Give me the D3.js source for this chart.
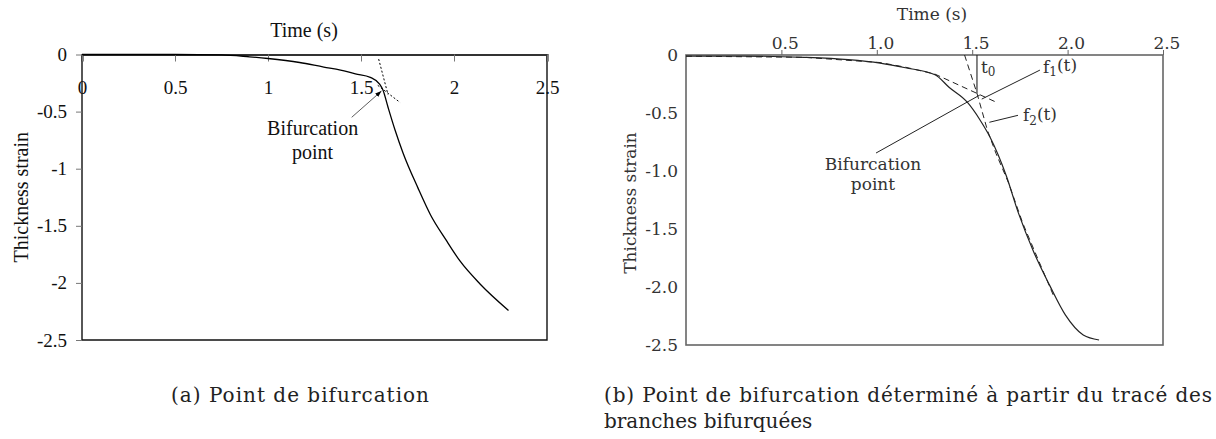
<!DOCTYPE html>
<html>
<head>
<meta charset="utf-8">
<script src="https://cdn.jsdelivr.net/npm/d3@7"></script>
<style>
  body { margin: 0; background: #fff; }
  svg { display: block; }
</style>
</head>
<body>
<div id="chart"></div>
<script>
"use strict";

// == DATA ==
// (a) left panel
var ticksA = [0, 0.5, 1, 1.5, 2, 2.5];
var tickLabelsA = ["0", "0.5", "1", "1.5", "2", "2.5"];
var yTicksA = [0, -0.5, -1, -1.5, -2, -2.5];
var yLabelsA = ["0", "-0.5", "-1", "-1.5", "-2", "-2.5"];

var timeA   = [0, 0.5, 0.75, 0.9, 1.0, 1.17, 1.3, 1.39, 1.47, 1.55, 1.60, 1.618, 1.645, 1.683, 1.726, 1.806, 1.874, 1.957, 2.032, 2.140, 2.293];
var strainA = [0, 0, -0.003, -0.02, -0.035, -0.07, -0.11, -0.136, -0.17, -0.2, -0.26, -0.311, -0.46, -0.661, -0.862, -1.168, -1.405, -1.624, -1.808, -2.009, -2.241];

// dotted tangents around the bifurcation point
var tangentSteepA   = [[1.595, -0.04], [1.645, -0.35]];
var tangentShallowA = [[1.59, -0.27], [1.71, -0.42]];
var arrowA = [[1.45, -0.55], [1.61, -0.32]];

// (b) right panel
var ticksB = [0.5, 1.0, 1.5, 2.0, 2.5];
var tickLabelsB = ["0.5", "1.0", "1.5", "2.0", "2.5"];
var yTicksB = [0, -0.5, -1, -1.5, -2, -2.5];
var yLabelsB = ["0", "-0.5", "-1.0", "-1.5", "-2.0", "-2.5"];

var timeB   = [0, 0.3, 0.62, 0.85, 1.017, 1.15, 1.305, 1.38, 1.473, 1.541, 1.593, 1.679, 1.741, 1.823, 1.906, 1.989, 2.082, 2.165];
var strainB = [-0.01, -0.01, -0.02, -0.04, -0.07, -0.11, -0.17, -0.28, -0.405, -0.56, -0.707, -1.043, -1.357, -1.70, -1.986, -2.243, -2.414, -2.457];

var f1TimeB   = [0, 0.62, 1.017, 1.15, 1.305, 1.63];
var f1StrainB = [-0.01, -0.02, -0.065, -0.105, -0.165, -0.41];
var f2TimeB   = [1.46, 1.525, 1.58, 1.625, 1.69, 1.765, 1.85, 1.925];
var f2StrainB = [0, -0.33, -0.65, -0.85, -1.1, -1.45, -1.78, -2.07];

var t0B = 1.525, t0StrainB = -0.33;
var f1LeaderB  = [[1.855, -0.13], [1.55, -0.38]];
var f2LeaderB  = [[1.74, -0.52], [1.59, -0.58]];
var bifLeaderB = [[0.996, -0.845], [1.54, -0.345]];

// == BOILERPLATE ==
var W = 1216, H = 439;
var svg = d3.select("#chart")
          .append("svg")
          .attr("width", W)
          .attr("height", H);

svg.append("rect").attr("width", W).attr("height", H).attr("fill", "#fff");

var fontA = "'Liberation Serif', serif";
var fontB = "'DejaVu Serif', serif";

// ------------------------------------------------------------------
// (a)
var mA = { left: 82, right: 547, top: 54.5, bottom: 340 };
var xA = d3.scaleLinear().domain([0, 2.5]).range([mA.left, mA.right]);
var yA = d3.scaleLinear().domain([0, -2.5]).range([mA.top, mA.bottom]);

var gA = svg.append("g").attr("font-family", fontA).attr("fill", "#111");

// frame
gA.append("path")
  .attr("d", "M" + xA(0) + "," + yA(0) + "V" + yA(-2.5) + "H" + xA(2.5) + "V" + yA(0))
  .attr("fill", "none").attr("stroke", "#111").attr("stroke-width", 1.4);

var xAxisA = d3.axisBottom(xA)
  .tickValues(ticksA)
  .tickFormat(function (d, i) { return tickLabelsA[i]; })
  .tickSize(7)
  .tickPadding(19);

gA.append("g")
  .attr("transform", "translate(0," + yA(0) + ")")
  .call(xAxisA)
  .call(function (g) {
    g.select(".domain").attr("stroke", "#333").attr("stroke-width", 2.2);
    g.selectAll(".tick line").attr("stroke", "#777");
    g.selectAll("text").attr("font-size", 19).attr("font-family", fontA).attr("fill", "#111");
  });

var yAxisA = d3.axisLeft(yA)
  .tickValues(yTicksA)
  .tickFormat(function (d, i) { return yLabelsA[i]; })
  .tickSize(6)
  .tickPadding(9);

gA.append("g")
  .attr("transform", "translate(" + xA(0) + ",0)")
  .call(yAxisA)
  .call(function (g) {
    g.select(".domain").remove();
    g.selectAll(".tick line").attr("stroke", "#777");
    g.selectAll("text").attr("font-size", 19).attr("font-family", fontA).attr("fill", "#111");
  });

gA.append("text")
  .attr("x", 304).attr("y", 37)
  .attr("text-anchor", "middle")
  .attr("font-size", 20)
  .text("Time (s)");

gA.append("text")
  .attr("transform", "translate(28," + (mA.top + mA.bottom) / 2 + ") rotate(-90)")
  .attr("text-anchor", "middle")
  .attr("font-size", 20)
  .text("Thickness strain");

var lineA = d3.line()
  .x(function (d) { return xA(d[0]); })
  .y(function (d) { return yA(d[1]); })
  .curve(d3.curveMonotoneX);

gA.append("path")
  .datum(timeA.map(function (t, i) { return [t, strainA[i]]; }))
  .attr("d", lineA)
  .attr("fill", "none").attr("stroke", "#000").attr("stroke-width", 1.3);

var straight = d3.line()
  .x(function (d) { return xA(d[0]); })
  .y(function (d) { return yA(d[1]); });

[tangentSteepA, tangentShallowA].forEach(function (seg) {
  gA.append("path")
    .datum(seg)
    .attr("d", straight)
    .attr("fill", "none").attr("stroke", "#000").attr("stroke-width", 1)
    .attr("stroke-dasharray", "2,2");
});

svg.append("defs").append("marker")
  .attr("id", "arrowA")
  .attr("viewBox", "0 0 10 10")
  .attr("refX", 10).attr("refY", 5)
  .attr("markerWidth", 8).attr("markerHeight", 8)
  .attr("orient", "auto")
  .append("path").attr("d", "M0,1.5L10,5L0,8.5Z").attr("fill", "#000");

gA.append("path")
  .datum(arrowA)
  .attr("d", straight)
  .attr("fill", "none").attr("stroke", "#333").attr("stroke-width", 0.8)
  .attr("marker-end", "url(#arrowA)");

gA.append("text")
  .attr("x", xA(1.24)).attr("y", yA(-0.64))
  .attr("text-anchor", "middle").attr("dy", "0.35em")
  .attr("font-size", 20)
  .text("Bifurcation");
gA.append("text")
  .attr("x", xA(1.24)).attr("y", yA(-0.855))
  .attr("text-anchor", "middle").attr("dy", "0.35em")
  .attr("font-size", 20)
  .text("point");

// ------------------------------------------------------------------
// (b)
var mB = { left: 686, right: 1163, top: 55, bottom: 345 };
var xB = d3.scaleLinear().domain([0, 2.5]).range([mB.left, mB.right]);
var yB = d3.scaleLinear().domain([0, -2.5]).range([mB.top, mB.bottom]);

var gB = svg.append("g").attr("font-family", fontB).attr("fill", "#333");

gB.append("rect")
  .attr("x", xB(0)).attr("y", yB(0))
  .attr("width", xB(2.5) - xB(0)).attr("height", yB(-2.5) - yB(0))
  .attr("fill", "none").attr("stroke", "#666").attr("stroke-width", 1.6);

var xAxisB = d3.axisTop(xB)
  .tickValues(ticksB)
  .tickFormat(function (d, i) { return tickLabelsB[i]; })
  .tickSize(5)
  .tickPadding(1);

gB.append("g")
  .attr("transform", "translate(0," + yB(0) + ")")
  .call(xAxisB)
  .call(function (g) {
    g.select(".domain").remove();
    g.selectAll(".tick line").attr("stroke", "#666");
    g.selectAll("text").attr("font-size", 17).attr("font-family", fontB).attr("fill", "#333").attr("dx", "0.2em");
  });

var yAxisB = d3.axisLeft(yB)
  .tickValues(yTicksB)
  .tickFormat(function (d, i) { return yLabelsB[i]; })
  .tickSize(0)
  .tickPadding(8);

gB.append("g")
  .attr("transform", "translate(" + xB(0) + ",0)")
  .call(yAxisB)
  .call(function (g) {
    g.select(".domain").remove();
    g.selectAll("text").attr("font-size", 17).attr("font-family", fontB).attr("fill", "#333");
  });

gB.append("text")
  .attr("x", 932).attr("y", 20)
  .attr("text-anchor", "middle")
  .attr("font-size", 17)
  .text("Time (s)");

gB.append("text")
  .attr("transform", "translate(636,203) rotate(-90)")
  .attr("text-anchor", "middle")
  .attr("font-size", 17)
  .text("Thickness strain");

var lineB = d3.line()
  .x(function (d) { return xB(d[0]); })
  .y(function (d) { return yB(d[1]); })
  .curve(d3.curveMonotoneX);
var segB = d3.line()
  .x(function (d) { return xB(d[0]); })
  .y(function (d) { return yB(d[1]); });

gB.append("path")
  .datum(timeB.map(function (t, i) { return [t, strainB[i]]; }))
  .attr("d", lineB)
  .attr("fill", "none").attr("stroke", "#222").attr("stroke-width", 1.2);

gB.append("path")
  .datum(f1TimeB.map(function (t, i) { return [t, f1StrainB[i]]; }))
  .attr("d", segB)
  .attr("fill", "none").attr("stroke", "#222").attr("stroke-width", 1)
  .attr("stroke-dasharray", "6,4");

gB.append("path")
  .datum(f2TimeB.map(function (t, i) { return [t, f2StrainB[i]]; }))
  .attr("d", segB)
  .attr("fill", "none").attr("stroke", "#222").attr("stroke-width", 1)
  .attr("stroke-dasharray", "6,4");

gB.append("path")
  .datum([[t0B, 0], [t0B, t0StrainB]])
  .attr("d", segB)
  .attr("fill", "none").attr("stroke", "#222").attr("stroke-width", 1.1);

[f1LeaderB, f2LeaderB, bifLeaderB].forEach(function (seg) {
  gB.append("path")
    .datum(seg)
    .attr("d", segB)
    .attr("fill", "none").attr("stroke", "#222").attr("stroke-width", 1);
});

var t0Label = gB.append("text")
  .attr("x", xB(t0B) + 4).attr("y", yB(-0.1))
  .attr("dy", "0.35em").attr("font-size", 17);
t0Label.append("tspan").text("t");
t0Label.append("tspan").attr("font-size", 12).attr("dy", "0.3em").text("0");

function fLabel(t, s, sub) {
  var lbl = gB.append("text")
    .attr("x", xB(t)).attr("y", yB(s))
    .attr("dy", "0.35em").attr("font-size", 17);
  lbl.append("tspan").text("f");
  lbl.append("tspan").attr("font-size", 12).attr("dy", "0.3em").text(sub);
  lbl.append("tspan").attr("dy", "-0.3em").text("(t)");
}
fLabel(1.871, -0.1, "1");
fLabel(1.766, -0.52, "2");

gB.append("text")
  .attr("x", xB(0.98)).attr("y", yB(-0.94))
  .attr("text-anchor", "middle").attr("dy", "0.35em")
  .attr("font-size", 17)
  .text("Bifurcation");
gB.append("text")
  .attr("x", xB(0.98)).attr("y", yB(-1.11))
  .attr("text-anchor", "middle").attr("dy", "0.35em")
  .attr("font-size", 17)
  .text("point");

// == CAPTIONS ==
var capFont = "'DejaVu Serif', serif";
svg.append("text")
  .attr("x", 171).attr("y", 402)
  .attr("font-family", capFont).attr("font-size", 20).attr("fill", "#222")
  .attr("textLength", 258).attr("lengthAdjust", "spacing")
  .text("(a) Point de bifurcation");
svg.append("text")
  .attr("x", 604).attr("y", 402)
  .attr("font-family", capFont).attr("font-size", 20).attr("fill", "#222")
  .attr("textLength", 608).attr("lengthAdjust", "spacing")
  .text("(b) Point de bifurcation déterminé à partir du tracé des");
svg.append("text")
  .attr("x", 604).attr("y", 428)
  .attr("font-family", capFont).attr("font-size", 20).attr("fill", "#222")
  .text("branches bifurquées");
</script>
</body>
</html>
